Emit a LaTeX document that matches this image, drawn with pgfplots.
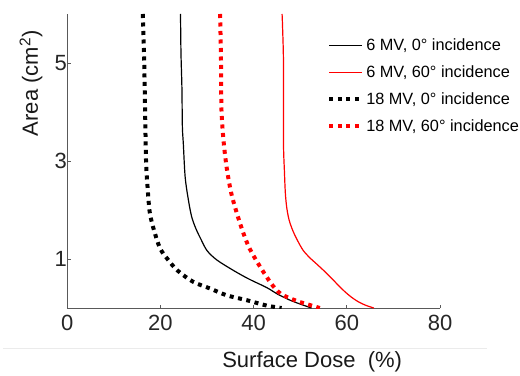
\documentclass[border=0pt]{standalone}
\usepackage{pgfplots}
\pgfplotsset{compat=1.18}
\usepackage{fontspec}
\setmainfont{Liberation Sans}
\begin{document}
\begin{tikzpicture}[x=1bp,y=1bp]
\path[use as bounding box] (0,0) rectangle (520,375);
\draw[black!8, line width=0.8bp] (3,27) -- (487,27);
\begin{axis}[
  at={(67.3bp,67bp)}, anchor=south west, scale only axis,
  width=372.7bp, height=294bp,
  xmin=0, xmax=80, ymin=0, ymax=6,
  axis x line*=bottom, axis y line*=left,
  axis line style={black!65, line width=0.9bp},
  xtick={0,20,40,60,80}, ytick={1,3,5},
  tick align=inside, major tick length=3.5bp,
  tick style={black!65, line width=0.8bp},
  /pgf/number format/assume math mode=true,
  ticklabel style={font=\fontsize{22bp}{26bp}\selectfont, text=black!85},
  xticklabel style={yshift=-3.7bp},
  yticklabel style={xshift=3bp},
  xlabel={Surface Dose~ (\%)},
  ylabel={Area (cm\textsuperscript{2})},
  label style={font=\fontsize{22bp}{26bp}\selectfont, text=black!90},
  x label style={at={(axis description cs:0.657,0)}, anchor=north, yshift=-40bp},
  y label style={at={(axis description cs:-0.057,0.764)}, anchor=south},
  legend style={at={(axis description cs:0.697,0.922)}, anchor=north west,
    draw=none, fill=none, font=\fontsize{16.3bp}{19bp}\selectfont, row sep=9.5bp,
    inner sep=0pt},
  legend cell align=left,
  legend image code/.code={\draw[#1] (0bp,0bp) -- (33bp,0bp);},
]
\addplot[black, line width=1.2bp, smooth, tension=0.5] coordinates {
(24.3,6.0) (24.4,5.2) (24.6,4.5) (24.7,3.7) (24.9,3.36) (25.3,2.67) (26.0,2.2)
(26.7,1.86) (27.6,1.62) (28.7,1.40) (30.0,1.17) (32.1,0.98) (35.6,0.77)
(38.8,0.60) (42.1,0.45) (43.5,0.38) (45.0,0.29) (47.8,0.16) (50.0,0.08) (52.4,0.0)};
\addlegendentry{6 MV, 0° incidence}
\addplot[red, line width=1.2bp, smooth, tension=0.5] coordinates {
(46.1,6.0) (46.2,5.75) (46.4,5.0) (46.4,3.4) (46.6,2.8) (46.8,2.35) (47.1,2.05)
(47.6,1.80) (48.4,1.58) (49.4,1.38) (50.6,1.18) (52.0,1.03) (53.5,0.90) (55.2,0.75)
(56.8,0.60) (58.2,0.46) (59.5,0.34) (61.0,0.22) (62.6,0.12) (64.2,0.05) (65.8,0.0)};
\addlegendentry{6 MV, 60° incidence}
\addplot[black, line width=4bp, dash pattern=on 4bp off 4.5bp, smooth, tension=0.5] coordinates {
(16.2,6.0) (16.5,5.04) (16.7,4.02) (16.9,3.0) (17.2,2.5) (17.7,1.95) (18.6,1.59)
(19.9,1.22) (21.5,1.0) (23.6,0.77) (27.0,0.535) (30.6,0.40) (34.2,0.26)
(38.5,0.16) (42.8,0.05) (46.0,0.0)};
\addlegendentry{18 MV, 0° incidence}
\addplot[red, line width=4bp, dash pattern=on 4bp off 4.5bp, smooth, tension=0.5] coordinates {
(32.8,6.0) (33.0,5.0) (33.1,4.02) (33.6,3.35) (34.3,2.81) (35.3,2.3) (37.1,1.72)
(38.8,1.28) (40.5,0.98) (42.2,0.72) (43.6,0.52) (44.6,0.40) (45.8,0.29) (47.5,0.21)
(50.0,0.12) (54.2,0.0)};
\addlegendentry{18 MV, 60° incidence}
\end{axis}
\end{tikzpicture}
\end{document}
